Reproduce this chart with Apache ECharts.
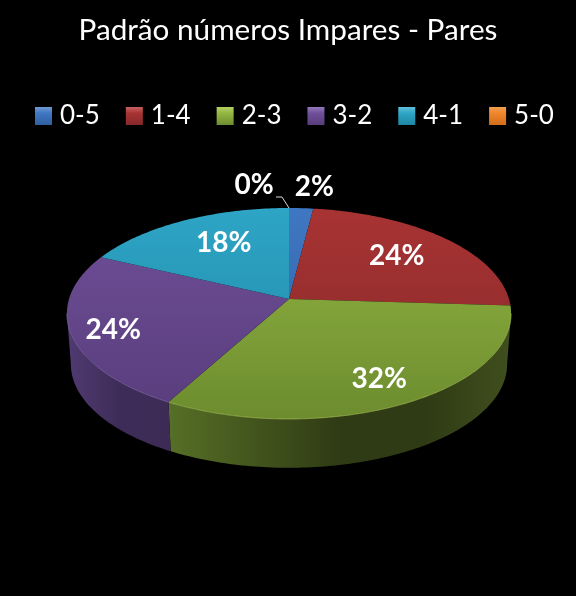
<!DOCTYPE html>
<html><head><meta charset="utf-8">
<style>html,body{margin:0;padding:0;background:#000}#c{width:576px;height:596px}</style>
<script src="https://cdn.jsdelivr.net/npm/echarts@6/dist/echarts.min.js"></script>
</head><body><div id="c"></div>
<script>
// ---- data ----
const chartTitle = 'Padrão números Impares - Pares';
const categories = ['0-5', '1-4', '2-3', '3-2', '4-1', '5-0'];
const values = [2, 24, 32, 24, 18, 0];

// ---- styles ----
const topLight  = ['#3f77c2', '#a83333', '#93b643', '#704f98', '#2ea5c6', '#f0852b'];
const topDark   = ['#2f5f9f', '#86282a', '#6c8c2e', '#583d7c', '#1f86a3', '#d06d1c'];
const wallLeft  = ['#2c4f80', '#6e2222', '#566f27', '#503b71', '#1d6e86', '#b05c18'];
const wallMid   = ['#1f3a60', '#4e1818', '#2f3b14', '#3e2c58', '#145060', '#804210'];
const wallRight = ['#2c4f80', '#6e2222', '#404f1e', '#3d2b56', '#1d6e86', '#b05c18'];
const rimColor  = ['#6f9ad6', '#c86060', '#b4d060', '#9378bc', '#60c0dc', '#f0a050'];

// ---- layout: perspective view of the disc ----
const CX = 289, CY = 299, RX = 220, RY = 103.5, PERSP = 0.1374;
const DEPTH = 51, BOTTOM_SCALE = 0.982;
// label placement: radius as a share of the disc radius + fine offset in px
const labelPlace = [
  {r: 1.2, dx: 11, dy: -6}, {r: 0.68, dx: -1, dy: -1}, {r: 0.78, dx: -1, dy: 2},
  {r: 0.82, dx: 2, dy: 4}, {r: 0.68, dx: 9, dy: -1}, {r: 1.2, dx: -35, dy: -7}
];
const SILHOUETTE_L = 97.9, SILHOUETTE_R = 262.1;

function project(deg, r, bottom) {
  const a = deg * Math.PI / 180;
  const u = r * Math.sin(a), v = r * Math.cos(a), w = 1 + PERSP * v;
  const s = bottom ? BOTTOM_SCALE : 1;
  return [CX + s * RX * u / w, CY + (bottom ? DEPTH : 0) - s * RY * v / w];
}
function arc(a0, a1, bottom) {
  const pts = [], n = Math.max(2, Math.ceil(Math.abs(a1 - a0)));
  for (let i = 0; i <= n; i++) pts.push(project(a0 + (a1 - a0) * i / n, 1, bottom));
  return pts;
}
const total = values.reduce((a, b) => a + b, 0);
const G = echarts.graphic.LinearGradient;

function renderSlice(idx) {
  return function (params, api) {
    const val = api.value(0);
    const start = values.slice(0, idx).reduce((a, b) => a + b, 0) / total * 360;
    const end = start + val / total * 360;
    const mid = (start + end) / 2;
    const children = [];
    const wa0 = Math.max(start, SILHOUETTE_L), wa1 = Math.min(end, SILHOUETTE_R);
    if (wa1 > wa0) {
      children.push({
        type: 'polygon', silent: true,
        shape: {points: arc(wa0, wa1, false).concat(arc(wa1, wa0, true))},
        style: {fill: new G(0, 0, 1, 0, [
          {offset: 0, color: wallLeft[idx]}, {offset: 0.5, color: wallMid[idx]},
          {offset: 0.75, color: wallMid[idx]}, {offset: 1, color: wallRight[idx]}]), stroke: null}
      });
    }
    if (end > start) {
      children.push({
        type: 'polygon', silent: true,
        shape: {points: [[CX, CY]].concat(arc(start, end, false))},
        style: {fill: new G(CX, CY - 91, CX, CY + 120, [
          {offset: 0, color: topLight[idx]}, {offset: 1, color: topDark[idx]}], true), stroke: null}
      });
    }
    if (wa1 > wa0) {
      children.push({
        type: 'polyline', silent: true,
        shape: {points: arc(wa0, wa1, false)},
        style: {fill: null, stroke: rimColor[idx], lineWidth: 1, opacity: 0.55}
      });
    }
    const p = labelPlace[idx], pos = project(mid, p.r, false);
    const lx = pos[0] + p.dx, ly = pos[1] + p.dy;
    if (val === 0) {
      const e = project(mid, 1, false);
      children.push({
        type: 'polyline', silent: true,
        shape: {points: [[lx + 22, e[1] - 11], [lx + 28, e[1] - 11], e]},
        style: {fill: null, stroke: '#d9d9d9', lineWidth: 1}
      });
    }
    children.push({
      type: 'text', silent: true, z2: 10,
      style: {x: lx, y: ly, text: Math.round(val / total * 100) + '%', fill: '#fff',
        font: 'bold 28px Lato', align: 'center', verticalAlign: 'middle'}
    });
    return {type: 'group', children};
  };
}

const chart = echarts.init(document.getElementById('c'), null, {renderer: 'canvas'});
chart.setOption({
  backgroundColor: '#000',
  animation: false,
  title: {
    text: chartTitle, left: 'center', top: 10,
    textStyle: {color: '#fff', fontFamily: 'Lato', fontSize: 29.7, fontWeight: 'normal'}
  },
  legend: {
    data: categories, left: 30, top: 98, icon: 'rect',
    itemWidth: 17, itemHeight: 18, itemGap: 26, selectedMode: false,
    textStyle: {color: '#fff', fontFamily: 'Lato', fontSize: 26, padding: [0, 0, 0, 3]}
  },
  series: categories.map((name, i) => ({
    type: 'custom', name, coordinateSystem: 'none', silent: true,
    itemStyle: {color: new G(0, 0, 0, 1, [
      {offset: 0, color: rimColor[i]}, {offset: 0.35, color: topLight[i]}, {offset: 1, color: topDark[i]}])},
    renderItem: renderSlice(i),
    encode: {value: 0},
    data: [[values[i]]]
  }))
});
</script></body></html>
